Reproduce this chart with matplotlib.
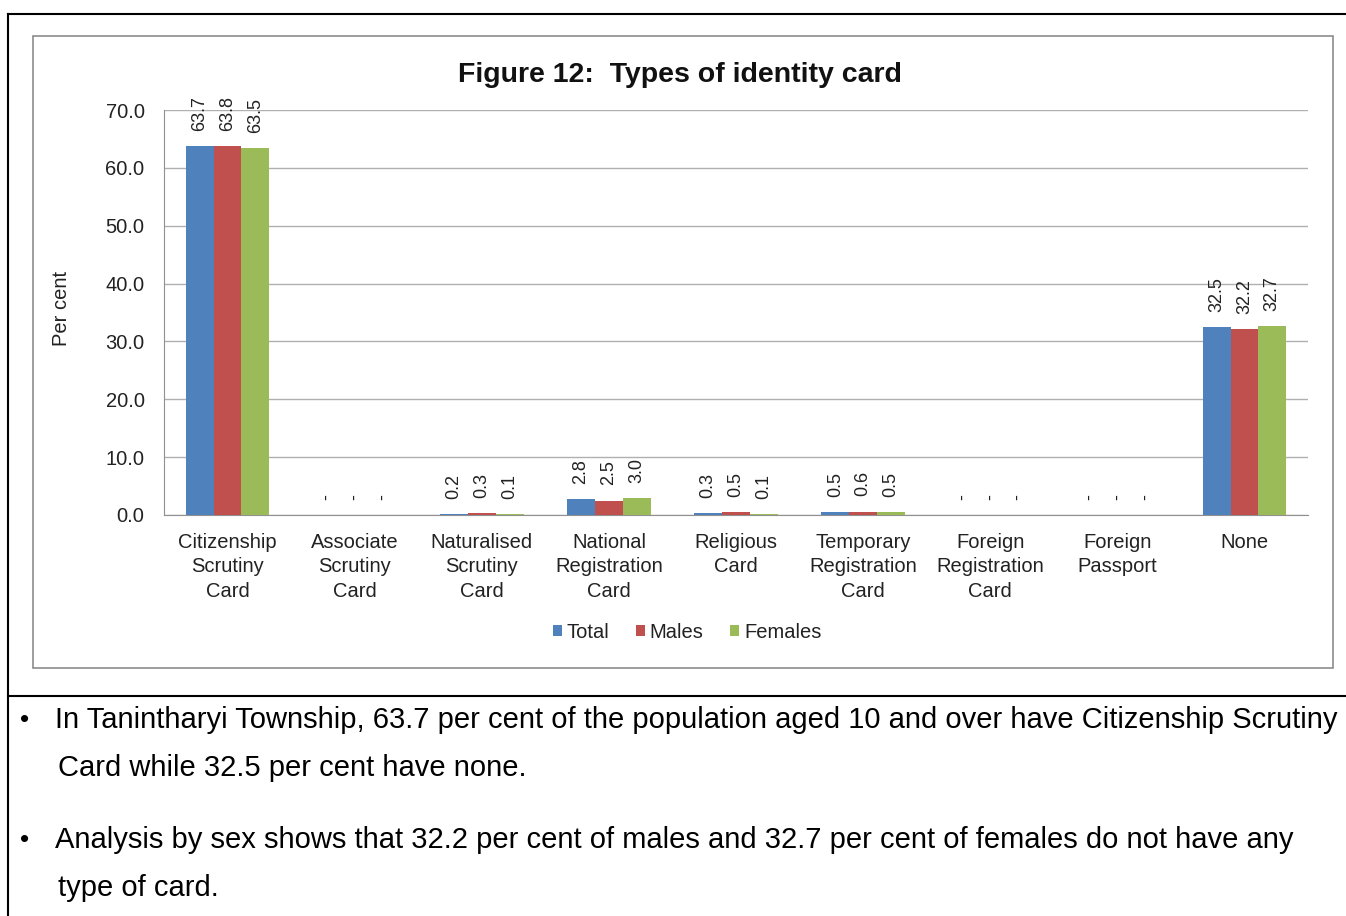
import numpy as np
import matplotlib.pyplot as plt
from matplotlib.lines import Line2D
from matplotlib.patches import Rectangle

plt.rcParams['font.family'] = ['Liberation Sans', 'DejaVu Sans']

# Data
categories = ['Citizenship\nScrutiny\nCard', 'Associate\nScrutiny\nCard', 'Naturalised\nScrutiny\nCard',
              'National\nRegistration\nCard', 'Religious\nCard', 'Temporary\nRegistration\nCard',
              'Foreign\nRegistration\nCard', 'Foreign\nPassport', 'None']
total = [63.7, None, 0.2, 2.8, 0.3, 0.5, None, None, 32.5]
males = [63.8, None, 0.3, 2.5, 0.5, 0.6, None, None, 32.2]
females = [63.5, None, 0.1, 3.0, 0.1, 0.5, None, None, 32.7]
series_names = ['Total', 'Males', 'Females']
colors = ['#4F81BD', '#C0504D', '#9BBB59']
yticks = [0, 10, 20, 30, 40, 50, 60, 70]

notes = ['In Tanintharyi Township, 63.7 per cent of the population aged 10 and over have Citizenship Scrutiny',
         'Card while 32.5 per cent have none.',
         'Analysis by sex shows that 32.2 per cent of males and 32.7 per cent of females do not have any',
         'type of card.']

fig = plt.figure(figsize=(13.46, 9.16), dpi=100)
ax = fig.add_axes([164/1346, 1-515/916, (1308-164)/1346, (515-110)/916])

x = np.arange(len(categories))
w = 0.219
for k, (vals, name, c) in enumerate(zip([total, males, females], series_names, colors)):
    h = [0 if v is None else v for v in vals]
    xs = x + (k-1)*w
    ax.bar(xs, h, w, color=c, label=name, zorder=3)
    for xi, v in zip(xs, vals):
        lab = '-' if v is None else '%.1f' % v
        ax.text(xi, (0 if v is None else v) + 2.6, lab, rotation=90, ha='center', va='bottom',
                fontsize=13, color='#222222')

ax.set_xlim(-0.5, len(categories)-0.5)
ax.set_ylim(0, 70)
ax.set_yticks(yticks)
ax.set_yticklabels(['%.1f' % t for t in yticks], fontsize=14.5, color='#222222')
ax.set_xticks(x)
ax.set_xticklabels(categories, fontsize=14.5, linespacing=1.35, color='#222222')
ax.tick_params(axis='x', length=0, pad=13)
ax.tick_params(axis='y', length=0, pad=14)
ax.grid(axis='y', color='#B0B0B0', lw=1, zorder=0)
for s in ['top', 'right']:
    ax.spines[s].set_visible(False)
ax.spines['left'].set_color('#909090')
ax.spines['bottom'].set_color('#909090')
ax.set_ylabel('Per cent', fontsize=14.5, color='#222222')
ax.yaxis.set_label_coords(-0.081, 0.51)

fig.text(680/1346, 1-75/916, 'Figure 12:  Types of identity card', ha='center', va='center',
         fontsize=20.5, fontweight='bold', color='#111111')

ax.legend(loc='center', bbox_to_anchor=(687/1346, 1-632/916), bbox_transform=fig.transFigure,
          ncol=3, frameon=False, fontsize=14.5, handlelength=0.45, handleheight=0.45,
          handletextpad=0.25, columnspacing=1.3, labelcolor='#222222')

# chart frame and page borders
fig.add_artist(Rectangle((33/1346, 1-668/916), 1300/1346, 632/916, transform=fig.transFigure,
                         fill=False, ec='#8C8C8C', lw=1.2))
fig.add_artist(Line2D([8/1346, 1], [1-14/916, 1-14/916], color='black', lw=1.5))
fig.add_artist(Line2D([8/1346, 8/1346], [1-14/916, 0], color='black', lw=1.5))
fig.add_artist(Line2D([8/1346, 1], [1-696/916, 1-696/916], color='black', lw=1.5))

# notes
ys = [720, 768, 840, 888]
for i, (t, yy) in enumerate(zip(notes, ys)):
    if i in (0, 2):
        fig.text(20/1346, 1-yy/916, '\u2022', fontsize=19, va='center')
        fig.text(55/1346, 1-yy/916, t, fontsize=21, va='center')
    else:
        fig.text(58/1346, 1-yy/916, t, fontsize=21, va='center')

fig.savefig('out.png', dpi=100)
